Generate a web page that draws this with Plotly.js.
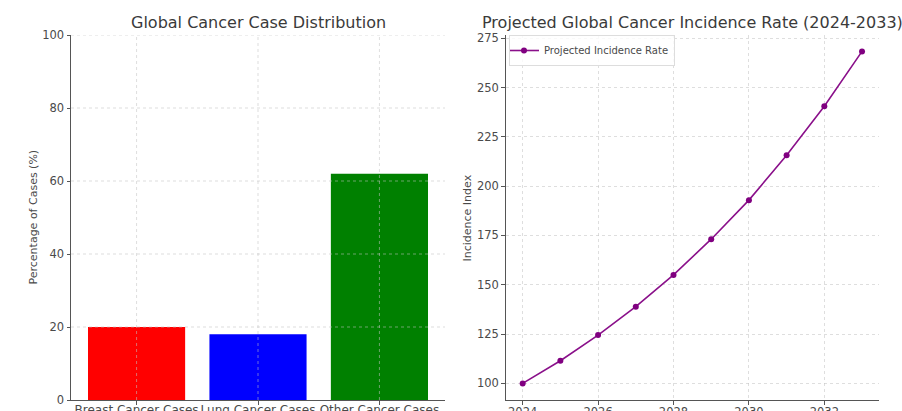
<!DOCTYPE html>
<html>
<head>
<meta charset="utf-8">
<script src="https://cdn.plot.ly/plotly-3.0.1.min.js"></script>
<style>
  html, body { margin: 0; padding: 0; background: #fff; }
  #chart { width: 902px; height: 411px; }
</style>
</head>
<body>
<div id="chart"></div>
<script>
// ---- Data ----
const categories = ["Breast Cancer Cases", "Lung Cancer Cases", "Other Cancer Cases"];
const caseShares = [20, 18, 62];
const barColors = ["#ff0000", "#0000ff", "#008000"];
const shareTicks = [0, 20, 40, 60, 80, 100];

const years = [2024, 2025, 2026, 2027, 2028, 2029, 2030, 2031, 2032, 2033];
const incidence = [100, 111.5, 124.5, 138.9, 155.0, 173.1, 192.9, 215.6, 240.5, 268.3];
const yearTicks = [2024, 2026, 2028, 2030, 2032];
const incidenceTicks = [100, 125, 150, 175, 200, 225, 250, 275];

// ---- Style ----
const FONT = "DejaVu Sans, Verdana, sans-serif";
const TXT = "#4a4a4a";
const GRID = "rgba(195,195,195,0.55)";
const W = 902, H = 411;
const px = v => v / W;
const py = v => 1 - v / H;

const bars = {
  type: "bar", x: categories, y: caseShares, width: 0.8,
  marker: { color: barColors, line: { width: 0 } },
  xaxis: "x", yaxis: "y", showlegend: false, hoverinfo: "x+y"
};
const line = {
  type: "scatter", mode: "lines+markers", x: years, y: incidence,
  name: "Projected Incidence Rate",
  line: { color: "#8a108a", width: 1.6 },
  marker: { color: "#800080", size: 6 },
  xaxis: "x2", yaxis: "y2"
};

const axisCommon = {
  showline: true, linecolor: "#555", linewidth: 1,
  ticks: "outside", ticklen: 3.5, tickwidth: 1, tickcolor: "#555",
  tickfont: { family: FONT, size: 11.5, color: TXT },
  zeroline: false, mirror: false
};

// gridlines on left chart drawn above the bars (as in the reference)
const shapes = [];
shareTicks.filter(v => v > 0).forEach(v => shapes.push({
  type: "line", xref: "x domain", yref: "y", x0: 0, x1: 1, y0: v, y1: v,
  line: { color: GRID, width: 1, dash: "dot" }, layer: "above"
}));
categories.forEach(c => shapes.push({
  type: "line", xref: "x", yref: "y domain", x0: c, x1: c, y0: 0, y1: 1,
  line: { color: GRID, width: 1, dash: "dot" }, layer: "above"
}));

const yDom = [1 - 400 / H, 1 - 35 / H];

const layout = {
  width: W, height: H,
  margin: { l: 0, r: 0, t: 0, b: 0, pad: 0 },
  paper_bgcolor: "#fff", plot_bgcolor: "#fff",
  font: { family: FONT, color: TXT },
  showlegend: true,
  xaxis: Object.assign({}, axisCommon, {
    domain: [px(71), px(445)], anchor: "y",
    type: "category", range: [-0.54, 2.54], showgrid: false,
    tickfont: { family: FONT, size: 12, color: TXT },
    tickangle: 0, ticklabelstandoff: -5
  }),
  yaxis: Object.assign({}, axisCommon, {
    domain: yDom, anchor: "x", range: [0, 100],
    tickvals: shareTicks, showgrid: false
  }),
  xaxis2: Object.assign({}, axisCommon, {
    domain: [px(505.7), px(879)], anchor: "y2",
    range: [2023.55, 2033.45], tickvals: yearTicks, tickangle: 0,
    showgrid: true, gridcolor: GRID, griddash: "dot", gridwidth: 1,
    ticklabelstandoff: -2
  }),
  yaxis2: Object.assign({}, axisCommon, {
    domain: yDom, anchor: "x2", range: [91.6, 276.6],
    tickvals: incidenceTicks,
    showgrid: true, gridcolor: GRID, griddash: "dot", gridwidth: 1
  }),
  legend: {
    x: px(509), y: py(35), xanchor: "left", yanchor: "top",
    xref: "paper", yref: "paper",
    bgcolor: "rgba(255,255,255,0.8)", bordercolor: "#ddd", borderwidth: 1,
    font: { family: FONT, size: 10, color: TXT },
    itemwidth: 30, tracegroupgap: 0, indentation: -6
  },
  shapes: shapes,
  annotations: [
    { text: "Global Cancer Case Distribution", xref: "paper", yref: "paper",
      x: px(258), y: py(22), xanchor: "center", yanchor: "middle", showarrow: false,
      font: { family: FONT, size: 16, color: "#3a3a3a" } },
    { text: "Projected Global Cancer Incidence Rate (2024-2033)", xref: "paper", yref: "paper",
      x: px(692.4), y: py(22), xanchor: "center", yanchor: "middle", showarrow: false,
      font: { family: FONT, size: 16, color: "#3a3a3a" } },
    { text: "Percentage of Cases (%)", xref: "paper", yref: "paper",
      x: px(33), y: py(217.5), xanchor: "center", yanchor: "middle", showarrow: false,
      textangle: -90, font: { family: FONT, size: 11, color: TXT } },
    { text: "Incidence Index", xref: "paper", yref: "paper",
      x: px(467), y: py(217.5), xanchor: "center", yanchor: "middle", showarrow: false,
      textangle: -90, font: { family: FONT, size: 11, color: TXT } }
  ]
};

Plotly.newPlot("chart", [bars, line], layout, { displayModeBar: false, staticPlot: true });
</script>
</body>
</html>
